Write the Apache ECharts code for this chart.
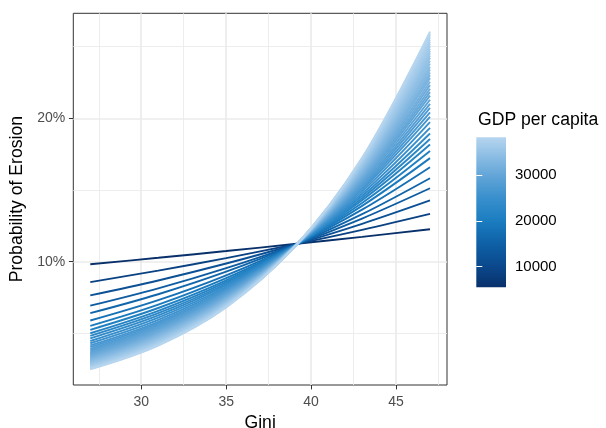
<!DOCTYPE html>
<html>
<head>
<meta charset="utf-8">
<script src="https://cdn.jsdelivr.net/npm/echarts@6/dist/echarts.min.js"></script>
<style>
html,body{margin:0;padding:0;background:#fff;}
#chart{width:606px;height:428px;}
</style>
</head>
<body>
<div id="chart"></div>
<script>
// Gini values at which each curve was read
const gini = [27, 31, 35, 39, 43, 47];
// GDP per capita of each curve (colour)
const gdpPerCapita = [5500, 8900, 11700, 14100, 16000, 18000, 19600, 20800, 21900, 22800, 23700, 24600, 25500,
  26300, 27000, 27700, 28300, 28900, 29500, 30000, 30500, 31000, 31500, 32000, 32400, 32800, 33200, 33600,
  34000, 34400, 34800, 35100, 35400, 35700, 36000, 36300, 36600, 36900, 37200, 37500, 37800, 38000, 38230];
// Probability of erosion per curve, at the gini values above
const probability = [
  [0.0982, 0.1027, 0.1074, 0.1123, 0.1173, 0.1226],
  [0.0857, 0.0938, 0.1025, 0.1120, 0.1222, 0.1333],
  [0.0765, 0.0869, 0.0987, 0.1118, 0.1264, 0.1427],
  [0.0693, 0.0814, 0.0955, 0.1116, 0.1301, 0.1512],
  [0.0641, 0.0773, 0.0930, 0.1115, 0.1331, 0.1582],
  [0.0590, 0.0732, 0.0905, 0.1114, 0.1363, 0.1659],
  [0.0552, 0.0700, 0.0885, 0.1112, 0.1389, 0.1722],
  [0.0525, 0.0677, 0.0870, 0.1112, 0.1409, 0.1771],
  [0.0501, 0.0657, 0.0857, 0.1111, 0.1428, 0.1817],
  [0.0483, 0.0641, 0.0846, 0.1110, 0.1443, 0.1855],
  [0.0465, 0.0625, 0.0836, 0.1109, 0.1458, 0.1894],
  [0.0447, 0.0610, 0.0825, 0.1109, 0.1474, 0.1933],
  [0.0431, 0.0594, 0.0815, 0.1108, 0.1490, 0.1973],
  [0.0416, 0.0581, 0.0806, 0.1108, 0.1504, 0.2009],
  [0.0404, 0.0570, 0.0798, 0.1107, 0.1516, 0.2041],
  [0.0392, 0.0559, 0.0790, 0.1107, 0.1528, 0.2073],
  [0.0382, 0.0550, 0.0784, 0.1106, 0.1539, 0.2101],
  [0.0373, 0.0540, 0.0777, 0.1106, 0.1550, 0.2129],
  [0.0363, 0.0531, 0.0771, 0.1105, 0.1561, 0.2158],
  [0.0356, 0.0524, 0.0765, 0.1105, 0.1570, 0.2182],
  [0.0348, 0.0517, 0.0760, 0.1105, 0.1579, 0.2206],
  [0.0341, 0.0509, 0.0755, 0.1104, 0.1588, 0.2231],
  [0.0334, 0.0502, 0.0749, 0.1104, 0.1597, 0.2255],
  [0.0327, 0.0495, 0.0744, 0.1104, 0.1606, 0.2280],
  [0.0321, 0.0490, 0.0740, 0.1103, 0.1614, 0.2300],
  [0.0316, 0.0484, 0.0736, 0.1103, 0.1621, 0.2320],
  [0.0310, 0.0479, 0.0732, 0.1103, 0.1629, 0.2340],
  [0.0305, 0.0473, 0.0728, 0.1102, 0.1636, 0.2360],
  [0.0300, 0.0468, 0.0723, 0.1102, 0.1644, 0.2381],
  [0.0295, 0.0463, 0.0719, 0.1102, 0.1652, 0.2401],
  [0.0290, 0.0458, 0.0715, 0.1102, 0.1659, 0.2422],
  [0.0286, 0.0454, 0.0712, 0.1101, 0.1665, 0.2438],
  [0.0282, 0.0450, 0.0709, 0.1101, 0.1671, 0.2453],
  [0.0279, 0.0446, 0.0706, 0.1101, 0.1676, 0.2469],
  [0.0275, 0.0442, 0.0703, 0.1101, 0.1682, 0.2485],
  [0.0272, 0.0438, 0.0700, 0.1101, 0.1688, 0.2501],
  [0.0268, 0.0435, 0.0697, 0.1100, 0.1694, 0.2517],
  [0.0265, 0.0431, 0.0694, 0.1100, 0.1700, 0.2533],
  [0.0261, 0.0427, 0.0691, 0.1100, 0.1705, 0.2549],
  [0.0258, 0.0424, 0.0689, 0.1100, 0.1711, 0.2565],
  [0.0255, 0.0420, 0.0686, 0.1099, 0.1717, 0.2581],
  [0.0253, 0.0418, 0.0684, 0.1099, 0.1721, 0.2592],
  [0.0250, 0.0415, 0.0681, 0.1099, 0.1725, 0.2604]
];
// Axis ticks
const xTicks = [30, 35, 40, 45];
const xMinorTicks = [27.5, 32.5, 37.5, 42.5, 47.5];
const yTicks = [0.1, 0.2];
const yMinorTicks = [0.05, 0.15, 0.25];
const legendTicks = [10000, 20000, 30000];
const gdpRange = [5500, 38230];

// colour scale
const stops = [
  [0, '#08306B'], [0.15, '#0B4A8E'], [0.30, '#0F62A8'], [0.45, '#1C7EC1'],
  [0.6, '#3A90CD'], [0.75, '#64A6D8'], [0.9, '#94C2E6'], [1, '#B6D5EF']
];
function hex2rgb(h){return [parseInt(h.slice(1,3),16),parseInt(h.slice(3,5),16),parseInt(h.slice(5,7),16)];}
function colorFor(g){
  const f = (g - gdpRange[0]) / (gdpRange[1] - gdpRange[0]);
  for (let i = 1; i < stops.length; i++) {
    if (f <= stops[i][0] || i === stops.length - 1) {
      const a = stops[i-1], b = stops[i];
      const t = Math.max(0, Math.min(1, (f - a[0]) / (b[0] - a[0])));
      const ca = hex2rgb(a[1]), cb = hex2rgb(b[1]);
      const c = ca.map((v, k) => Math.round(v + (cb[k] - v) * t));
      return 'rgb(' + c.join(',') + ')';
    }
  }
}

const FONT = 'Liberation Sans';
const chart = echarts.init(document.getElementById('chart'), null, {renderer: 'canvas'});

const gridLines = [];
xMinorTicks.forEach(v => gridLines.push({xAxis: v, lineStyle: {color: '#EBEBEB', width: 0.9, type: 'solid'}}));
yMinorTicks.forEach(v => gridLines.push({yAxis: v, lineStyle: {color: '#EBEBEB', width: 0.9, type: 'solid'}}));
xTicks.forEach(v => gridLines.push({xAxis: v, lineStyle: {color: '#EBEBEB', width: 1.7, type: 'solid'}}));
yTicks.forEach(v => gridLines.push({yAxis: v, lineStyle: {color: '#EBEBEB', width: 1.7, type: 'solid'}}));

const series = [{
  type: 'line', xAxisIndex: 0, yAxisIndex: 0, data: [], z: 0, silent: true,
  markLine: {silent: true, z: 0, symbol: ['none', 'none'], label: {show: false}, animation: false, data: gridLines}
}];
probability.forEach((row, i) => {
  series.push({
    type: 'line', xAxisIndex: 0, yAxisIndex: 0, z: 3,
    data: row.map((p, j) => [gini[j], p]),
    showSymbol: false, symbol: 'none', smooth: 0.35,
    lineStyle: {color: colorFor(gdpPerCapita[i]), width: 1.9},
    silent: true, animation: false
  });
});

const barGradient = new echarts.graphic.LinearGradient(0, 1, 0, 0,
  stops.map(s => ({offset: s[0], color: s[1]})));

chart.setOption({
  animation: false,
  textStyle: {fontFamily: FONT},
  title: {
    text: 'GDP per capita', left: 478, top: 111, padding: 0,
    textStyle: {fontFamily: FONT, fontSize: 17.6, fontWeight: 'normal', color: '#000'}
  },
  grid: [
    {left: 73.3, top: 13.3, width: 373.7, height: 371.7, show: true, borderColor: '#333333', borderWidth: 1,
     backgroundColor: 'transparent', containLabel: false, outerBoundsMode: 'none'},
    {left: 476.3, top: 137.3, width: 29.7, height: 150, show: true, borderWidth: 0,
     backgroundColor: barGradient, containLabel: false, outerBoundsMode: 'none'}
  ],
  xAxis: [
    {type: 'value', gridIndex: 0, min: 26, max: 48, position: 'bottom',
     name: 'Gini', nameLocation: 'middle', nameGap: 25,
     nameTextStyle: {fontFamily: FONT, fontSize: 17.6, color: '#000'},
     axisLine: {show: false}, splitLine: {show: false},
     axisTick: {show: true, customValues: xTicks, length: 4.4, lineStyle: {color: '#333333', width: 1}},
     axisLabel: {show: true, customValues: xTicks, margin: 10, color: '#4D4D4D', fontSize: 14, fontFamily: FONT}},
    {type: 'value', gridIndex: 1, min: 0, max: 1, show: false}
  ],
  yAxis: [
    {type: 'value', gridIndex: 0, min: 0.014, max: 0.2732, position: 'left',
     name: 'Probability of Erosion', nameLocation: 'middle', nameGap: 44, nameRotate: 90,
     nameTextStyle: {fontFamily: FONT, fontSize: 17.6, color: '#000'},
     axisLine: {show: false}, splitLine: {show: false},
     axisTick: {show: true, customValues: yTicks, length: 4.4, lineStyle: {color: '#333333', width: 1}},
     axisLabel: {show: true, customValues: yTicks, margin: 8, color: '#4D4D4D', fontSize: 14, fontFamily: FONT,
       formatter: v => Math.round(v * 100) + '%'}},
    {type: 'value', gridIndex: 1, min: gdpRange[0], max: gdpRange[1], position: 'right',
     axisLine: {show: false}, splitLine: {show: false},
     axisTick: {show: true, inside: true, customValues: legendTicks, length: 6, lineStyle: {color: '#ffffff', width: 1}},
     axisLabel: {show: true, customValues: legendTicks, margin: 9, color: '#000', fontSize: 15, fontFamily: FONT,
       formatter: v => String(v)}},
    {type: 'value', gridIndex: 1, min: gdpRange[0], max: gdpRange[1], position: 'left',
     axisLine: {show: false}, splitLine: {show: false},
     axisTick: {show: true, inside: true, customValues: legendTicks, length: 6, lineStyle: {color: '#ffffff', width: 1}},
     axisLabel: {show: false}}
  ],
  series: series
});
</script>
</body>
</html>
